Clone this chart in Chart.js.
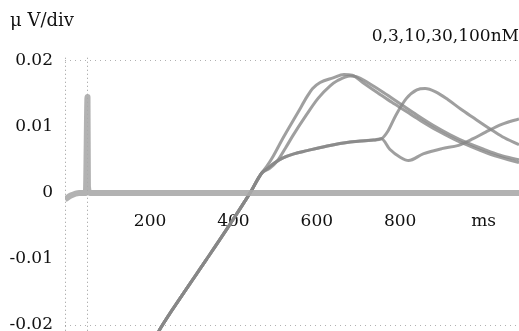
<!DOCTYPE html>
<html>
<head>
<meta charset="utf-8">
<script src="https://cdn.jsdelivr.net/npm/chart.js@4/dist/chart.umd.min.js"></script>
<style>
body { margin: 0; background: #fff; }
</style>
</head>
<body>
<canvas id="chartTrace" width="519" height="331"></canvas>
<script>
const chartTrace = document.getElementById("chartTrace");

const seriesNames = ["0nM", "3nM", "10nM", "30nM", "100nM"];
const xTicks = [200, 400, 600, 800, 1000];
const yTicks = [0.02, 0.01, 0, -0.01, -0.02];
const xMin = -4;
const xMax = 1085;
const stimMs = 51;

// 0 nM : flat baseline with the stimulus artefact
const ms0 = [-4, 10, 30, 46, 50, 51, 55, 1085];
const val0 = [-0.001, -0.0004, 0, 0, 0.0145, 0.001, 0, 0];

// shared part of the other traces (comes up from off scale)
const rampMs = [200, 225, 280, 335, 388, 440, 468];
const rampVal = [-0.0235, -0.0205, -0.0152, -0.0101, -0.0051, 0, 0.003];

// low plateau shared by 3 and 10 nM
const plateauMs = [482, 500, 519, 545, 577, 625, 680, 736, 755];
const plateauVal = [0.0037, 0.0046, 0.0053, 0.0059, 0.0064, 0.0071, 0.0077, 0.008, 0.0082];

const ms3 = [775, 800, 820, 855, 900, 940, 975, 1005, 1045, 1085];
const val3 = [0.0066, 0.0054, 0.0049, 0.0059, 0.0067, 0.0072, 0.0082, 0.0092, 0.0104, 0.0112];

const ms10 = [770, 790, 815, 840, 860, 885, 915, 945, 975, 1015, 1045, 1085];
const val10 = [0.0093, 0.0118, 0.0143, 0.0156, 0.0158, 0.0153, 0.0141, 0.0127, 0.0114, 0.0097, 0.0085, 0.0073];

const ms30 = [487, 505, 525, 543, 575, 603, 632, 650, 680, 695, 725, 760, 800, 840, 880, 920, 960, 1000, 1040, 1085];
const val30 = [0.0037, 0.0048, 0.0068, 0.0087, 0.0118, 0.0143, 0.0162, 0.017, 0.0177, 0.0176, 0.0166, 0.0152, 0.0135, 0.0118, 0.0102, 0.0088, 0.0076, 0.0066, 0.0057, 0.005];

const ms100 = [480, 495, 519, 555, 577, 590, 608, 639, 665, 685, 710, 745, 780, 815, 850, 890, 930, 970, 1010, 1050, 1085];
const val100 = [0.004, 0.0055, 0.0083, 0.0122, 0.0146, 0.0158, 0.0167, 0.0174, 0.0179, 0.0178, 0.0167, 0.0152, 0.0137, 0.0123, 0.0109, 0.0094, 0.0081, 0.007, 0.006, 0.0052, 0.0046];

function pts(ms, val) {
	return ms.map(function(m, i) { return { x: m, y: val[i] }; });
}

const traceColor = "rgba(135,135,135,0.8)";

const datasets = [
	{ label: seriesNames[0], data: pts(ms0, val0), borderColor: "rgba(170,170,170,0.9)", borderWidth: 6 },
	{ label: seriesNames[1], data: pts(rampMs.concat(plateauMs, ms3), rampVal.concat(plateauVal, val3)), borderColor: traceColor, borderWidth: 3 },
	{ label: seriesNames[2], data: pts(rampMs.concat(plateauMs, ms10), rampVal.concat(plateauVal, val10)), borderColor: traceColor, borderWidth: 3 },
	{ label: seriesNames[3], data: pts(rampMs.concat(ms30), rampVal.concat(val30)), borderColor: traceColor, borderWidth: 3 },
	{ label: seriesNames[4], data: pts(rampMs.concat(ms100), rampVal.concat(val100)), borderColor: traceColor, borderWidth: 3 }
];

const serif = "'DejaVu Serif', serif";

const traceChart = new Chart(chartTrace, {
	type: "line",
	data: { datasets: datasets },
	options: {
		responsive: false,
		animation: false,
		layout: { padding: { left: 10, right: 0, top: 0, bottom: 0 } },
		elements: {
			point: { radius: 0 },
			line: { cubicInterpolationMode: "monotone", borderJoinStyle: "round" }
		},
		plugins: {
			legend: { display: false },
			tooltip: { enabled: false },
			title: {
				display: true,
				text: "μ V/div",
				align: "start",
				color: "#111",
				font: { family: serif, size: 18, weight: "normal", lineHeight: 0.85 },
				padding: { top: 14, bottom: 0 }
			},
			subtitle: {
				display: true,
				text: "0,3,10,30,100nM",
				align: "end",
				color: "#111",
				font: { family: serif, size: 17, weight: "normal", lineHeight: 0.85 },
				padding: { top: 0, bottom: 14 }
			}
		},
		scales: {
			x: {
				type: "linear",
				min: xMin,
				max: xMax,
				position: { y: 0 },
				afterBuildTicks: function(axis) {
					axis.ticks = [xMin, stimMs].concat(xTicks).map(function(v) { return { value: v }; });
				},
				afterFit: function(axis) { axis.height = 0; },
				grid: {
					drawTicks: false,
					color: function(ctx) {
						if (ctx.tick && (ctx.tick.value === xMin || ctx.tick.value === stimMs)) return "rgba(80,80,80,0.6)";
						return "rgba(0,0,0,0)";
					}
				},
				border: { display: false, dash: [1, 3] },
				ticks: {
					padding: 18,
					color: "#111",
					font: { family: serif, size: 17 },
					callback: function(v) {
						if (v === 1000) return "ms";
						return xTicks.includes(v) ? String(v) : "";
					}
				}
			},
			y: {
				min: -0.0209,
				max: 0.02045,
				afterBuildTicks: function(axis) {
					axis.ticks = yTicks.map(function(v) { return { value: v }; });
				},
				afterFit: function(axis) {
					axis.width = 55;
					axis.paddingTop = 0;
					axis.paddingBottom = 0;
				},
				grid: {
					drawTicks: false,
					color: function(ctx) {
						if (ctx.tick && Math.abs(ctx.tick.value) === 0.02) return "rgba(80,80,80,0.45)";
						return "rgba(0,0,0,0)";
					}
				},
				border: { display: false, dash: [1, 4] },
				ticks: {
					padding: 12,
					color: "#111",
					font: { family: serif, size: 17 },
					callback: function(v) {
						return v === 0 ? "0" : v.toFixed(2);
					}
				}
			}
		}
	}
});
</script>
</body>
</html>
